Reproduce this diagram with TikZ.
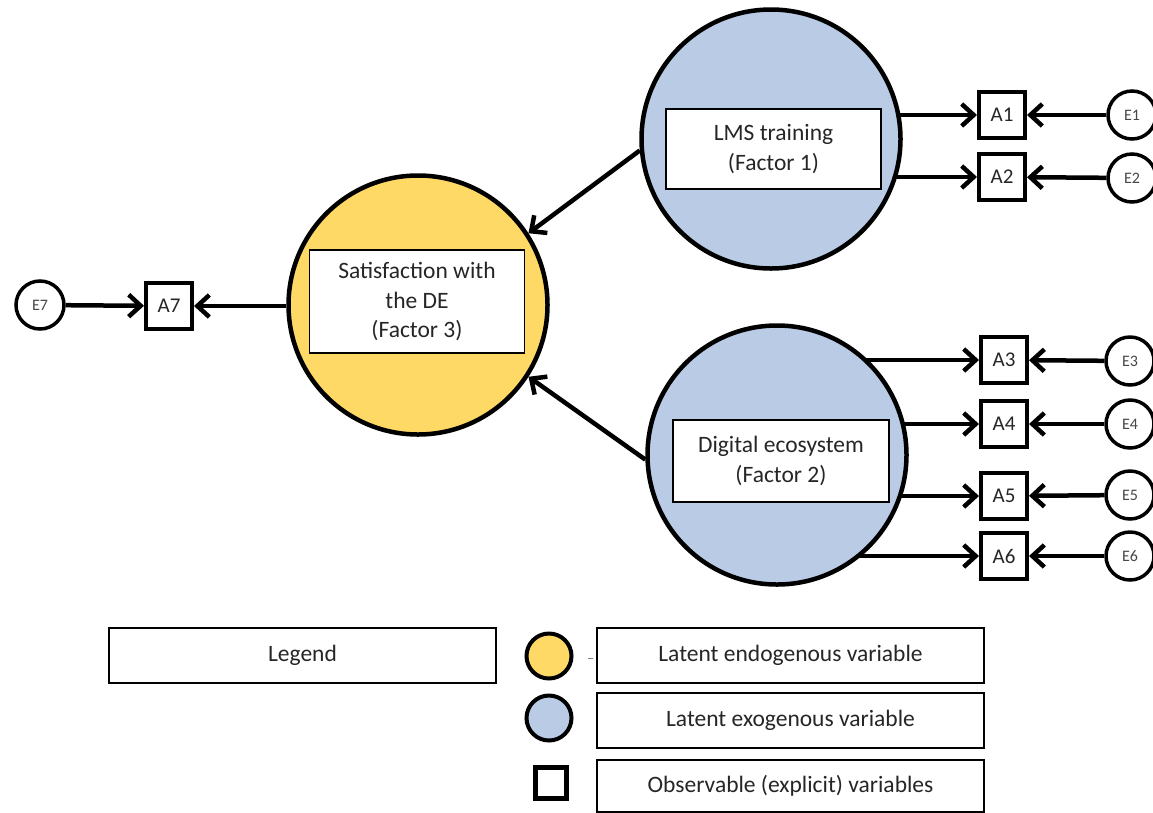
\documentclass[tikz,border=0pt]{standalone}
\usepackage{fontspec}
\setmainfont{Carlito}
\usetikzlibrary{arrows.meta,backgrounds}
\definecolor{yel}{HTML}{FFD966}
\definecolor{blu}{HTML}{B9CBE5}
\definecolor{txt}{HTML}{262626}
\begin{document}
\begin{tikzpicture}[x=1pt,y=-1pt,
  latent/.style={circle, draw, line width=4.5pt, minimum size=259pt, inner sep=0pt},
  obs/.style={draw, line width=4pt, minimum size=46pt, inner sep=0pt, fill=white, text=txt, font=\fontsize{21}{25}\selectfont},
  err/.style={circle, draw, line width=3.5pt, minimum size=48pt, inner sep=0pt, fill=white, text=txt!85, font=\fontsize{16}{18}\selectfont},
  lbl/.style={draw, line width=1.5pt, fill=white, align=center, inner sep=0pt, text=txt, font=\fontsize{23.5}{29.5}\selectfont},
  arr/.style={line width=4.5pt, -{Straight Barb[length=12pt,width=22pt]}},
]
\useasboundingbox (0,0) rectangle (1153,812);
\clip (0,0) rectangle (1153,812);

% latent variables
\node[latent, fill=yel] (Y) at (418,305) {};
\node[latent, fill=blu] (LMS) at (771,139) {};
\node[latent, fill=blu] (DE) at (777,455) {};
\node[lbl, minimum width=215pt, minimum height=103pt] (Ybox) at (417,301.5) {Satisfaction with\\the DE\\(Factor 3)};
\node[lbl, minimum width=215pt, minimum height=80pt] (LMSbox) at (773.5,149) {LMS training\\(Factor 1)};
\node[lbl, minimum width=216pt, minimum height=82pt] (DEbox) at (781,461) {Digital ecosystem\\(Factor 2)};

% observed variables
\node[obs] (A1) at (1002,115) {A1};
\node[obs] (A2) at (1002,177) {A2};
\node[obs] (A3) at (1004,360) {A3};
\node[obs] (A4) at (1004,424) {A4};
\node[obs] (A5) at (1004,496) {A5};
\node[obs] (A6) at (1004,556) {A6};
\node[obs] (A7) at (169,306) {A7};

% errors
\node[err] (E1) at (1132,115) {E1};
\node[err] (E2) at (1132,178) {E2};
\node[err] (E3) at (1130,361) {E3};
\node[err] (E4) at (1130,424) {E4};
\node[err] (E5) at (1130,495) {E5};
\node[err] (E6) at (1130,556) {E6};
\node[err] (E7) at (40,305) {E7};

% connectors
\begin{scope}[on background layer]
  \draw[arr] (LMS.center |- A1) -- (A1.west);
  \draw[arr] (LMS.center |- A2) -- (A2.west);
  \draw[arr] (DE.center |- A3) -- (A3.west);
  \draw[arr] (DE.center |- A4) -- (A4.west);
  \draw[arr] (DE.center |- A5) -- (A5.west);
  \draw[arr] (DE.center |- A6) -- (A6.west);
\end{scope}
\draw[arr] (E1) -- (A1);
\draw[arr] (E2) -- (A2);
\draw[arr] (E3) -- (A3);
\draw[arr] (E4) -- (A4);
\draw[arr] (E5) -- (A5);
\draw[arr] (E6) -- (A6);
\draw[arr] (E7) -- (A7);
\draw[arr] (Y.west |- A7) -- (A7.east);
\draw[arr] (LMS.185) -- (Y.33);
\draw[arr] (DE.182) -- (Y.327);

% legend
\node[lbl, minimum width=387pt, minimum height=55pt] (leg) at (302.5,655.5) {Legend};
\node[lbl, minimum width=387pt, minimum height=55pt] (L1) at (790.5,655.5) {Latent endogenous variable};
\node[lbl, minimum width=387pt, minimum height=55pt] (L2) at (790.5,720.5) {Latent exogenous variable};
\node[lbl, minimum width=387pt, minimum height=52pt] (L3) at (790.5,786) {Observable (explicit) variables};
\node[circle, draw, line width=4pt, fill=yel, minimum size=45pt, inner sep=0pt] (cy) at (549,656) {};
\node[circle, draw, line width=4pt, fill=blu, minimum size=45pt, inner sep=0pt] (cb) at (549,718) {};
\node[draw, line width=4.5pt, fill=white, minimum size=31pt, inner sep=0pt] (sq) at (551,783) {};
\coordinate (tick) at (590.5,658);
\draw[line width=1pt, gray] ([xshift=-2.5pt]tick) -- ([xshift=2.5pt]tick);
\end{tikzpicture}
\end{document}
